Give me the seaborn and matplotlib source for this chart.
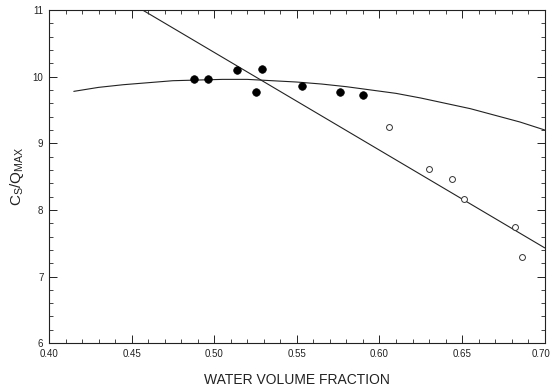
import matplotlib
matplotlib.use("Agg")
import matplotlib.pyplot as plt
import matplotlib.transforms as mtransforms
import seaborn as sns
from matplotlib.ticker import MultipleLocator

# Data
filled_x = [0.488, 0.496, 0.514, 0.525, 0.529, 0.553, 0.576, 0.590]
filled_y = [9.96, 9.96, 10.10, 9.77, 10.11, 9.86, 9.77, 9.72]

open_x = [0.606, 0.630, 0.644, 0.651, 0.682, 0.686]
open_y = [9.24, 8.61, 8.47, 8.16, 7.74, 7.29]

curve_x = [0.415, 0.43, 0.445, 0.46, 0.475, 0.49, 0.505, 0.52, 0.535, 0.55, 0.565,
           0.58, 0.595, 0.61, 0.625, 0.64, 0.655, 0.67, 0.685, 0.70]
curve_y = [9.78, 9.84, 9.88, 9.91, 9.94, 9.95, 9.96, 9.96, 9.94, 9.92, 9.89,
           9.85, 9.80, 9.75, 9.68, 9.60, 9.52, 9.42, 9.32, 9.20]

line_x = [0.4567, 0.70]
line_y = [11.0, 7.43]

x_ticks = [0.40, 0.45, 0.50, 0.55, 0.60, 0.65, 0.70]
x_labels = ["0.40", "0.45", "0.50", "0.55", "0.60", "0.65", "0.70"]
y_ticks = [6, 7, 8, 9, 10, 11]
y_labels = ["6", "7", "8", "9", "10", "11"]

sns.set_style("ticks")
plt.rcParams["font.family"] = ["Liberation Sans", "DejaVu Sans"]
plt.rcParams["mathtext.fontset"] = "custom"
plt.rcParams["mathtext.rm"] = "Liberation Sans"

fig = plt.figure(figsize=(5.52, 3.89), dpi=100)
ax = fig.add_axes([0.0888, 0.118, 0.898, 0.856])

sns.lineplot(x=curve_x, y=curve_y, ax=ax, color="#222222", linewidth=0.8, sort=False)
sns.lineplot(x=line_x, y=line_y, ax=ax, color="#222222", linewidth=0.8, sort=False)

sns.scatterplot(x=filled_x, y=filled_y, ax=ax, color="black", s=30,
                edgecolor="black", linewidth=0.5, zorder=5)
sns.scatterplot(x=open_x, y=open_y, ax=ax, facecolor="white", s=18,
                edgecolor="#333333", linewidth=0.7, zorder=5)

ax.set_xlim(0.40, 0.70)
ax.set_ylim(6, 11)
ax.set_xticks(x_ticks)
ax.set_xticklabels(x_labels)
ax.set_yticks(y_ticks)
ax.set_yticklabels(y_labels)
ax.xaxis.set_minor_locator(MultipleLocator(0.01))
ax.yaxis.set_minor_locator(MultipleLocator(0.2))
ax.tick_params(axis="both", which="major", direction="in", length=6, width=0.7,
               top=True, right=True, labelsize=7, colors="#222222", pad=4)
ax.tick_params(axis="both", which="minor", direction="in", length=3, width=0.6,
               top=True, right=True)
for s in ax.spines.values():
    s.set_linewidth(0.8)
    s.set_color("#222222")

last = ax.get_xticklabels()[-1]
last.set_horizontalalignment("right")
last.set_transform(last.get_transform() +
                   mtransforms.ScaledTranslation(6 / 100, 0, fig.dpi_scale_trans))

ax.set_xlabel("WATER VOLUME FRACTION", fontsize=10, color="#222222", labelpad=10)
ax.set_ylabel(r"$\mathregular{C_S/Q_{MAX}}$", fontsize=11, color="#222222", labelpad=5)

fig.savefig("out.png", dpi=100, facecolor="white")
